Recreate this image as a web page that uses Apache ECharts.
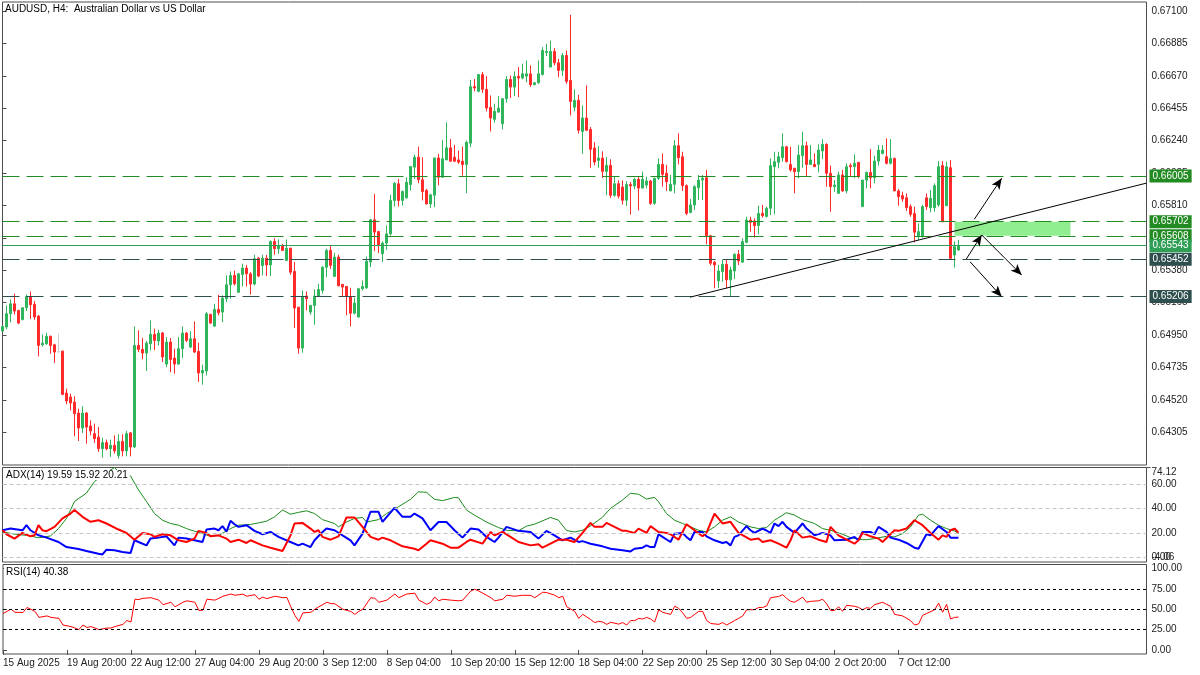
<!DOCTYPE html>
<html><head><meta charset="utf-8">
<script src="https://cdn.jsdelivr.net/npm/echarts@6/dist/echarts.min.js"></script>
<style>html,body{margin:0;padding:0;background:#fff}#c{width:1200px;height:675px}</style>
</head><body><div id="c"></div>
<script>
// ---------- DATA ----------
const opens = [
0.64976,0.65003,0.65091,0.65157,0.65113,0.65053,0.65131,0.65206,0.65153,0.65076,
0.64885,0.64892,0.64941,0.64885,0.64840,0.64843,0.64565,0.64539,0.64505,0.64432,
0.64333,0.64432,0.64346,0.64295,0.64273,0.64196,0.64236,0.64196,0.64218,0.64150,
0.64244,0.64181,0.64300,0.64207,0.64881,0.64855,0.64830,0.64892,0.64954,0.64910,
0.64963,0.64757,0.64903,0.64797,0.64757,0.64859,0.64963,0.64870,0.64925,0.64841,
0.64698,0.64711,0.65087,0.65009,0.65120,0.65102,0.65191,0.65283,0.65345,0.65234,
0.65352,0.65394,0.65356,0.65288,0.65460,0.65411,0.65460,0.65415,0.65571,0.65522,
0.65544,0.65445,0.65526,0.65372,0.65135,0.64863,0.65208,0.65102,0.65146,0.65208,
0.65246,0.65400,0.65511,0.65339,0.65467,0.65286,0.65272,0.65206,0.65095,0.65069,
0.65257,0.65263,0.65434,0.65714,0.65637,0.65489,0.65560,0.65621,0.65843,0.65953,
0.65843,0.65860,0.65949,0.66064,0.66130,0.65980,0.65909,0.65820,0.65878,0.66125,
0.65997,0.66112,0.66192,0.66130,0.66112,0.66103,0.66081,0.66223,0.66598,0.66567,
0.66678,0.66580,0.66460,0.66381,0.66429,0.66352,0.66518,0.66646,0.66595,0.66666,
0.66655,0.66668,0.66683,0.66611,0.66624,0.66679,0.66825,0.66728,0.66832,0.66756,
0.66706,0.66805,0.66639,0.66462,0.66507,0.66301,0.66390,0.66314,0.66191,0.66109,
0.66124,0.66036,0.66076,0.65877,0.65954,0.65932,0.65844,0.65948,0.65939,0.65983,
0.65925,0.65945,0.65972,0.65824,0.65990,0.66082,0.66023,0.65906,0.65950,0.66206,
0.66133,0.65941,0.65764,0.65813,0.65928,0.65978,0.65994,0.65609,0.65433,0.65309,
0.65371,0.65419,0.65316,0.65375,0.65486,0.65433,0.65565,0.65713,0.65707,0.65676,
0.65757,0.65737,0.65791,0.66067,0.66096,0.66127,0.66199,0.66082,0.66056,0.66034,
0.66140,0.66206,0.66082,0.66082,0.66082,0.66171,0.66215,0.66023,0.65934,0.65890,
0.66012,0.65906,0.66074,0.66067,0.66096,0.65802,0.65978,0.66029,0.65994,0.66104,
0.66155,0.66133,0.66089,0.66122,0.65906,0.65875,0.65861,0.65802,0.65757,0.65609,
0.65603,0.65861,0.65795,0.65795,0.65813,0.66074,0.65808,0.66060,0.65481,0.65514];
const highs = [
0.65014,0.65146,0.65186,0.65224,0.65117,0.65131,0.65219,0.65239,0.65175,0.65082,
0.64954,0.64965,0.64947,0.64892,0.64958,0.64847,0.64594,0.64561,0.64543,0.64461,
0.64477,0.64439,0.64384,0.64362,0.64340,0.64269,0.64256,0.64256,0.64284,0.64291,
0.64291,0.64313,0.64306,0.65007,0.64981,0.64932,0.64910,0.65047,0.64992,0.64985,
0.64970,0.64936,0.64930,0.64859,0.64936,0.65007,0.64970,0.64974,0.65040,0.64899,
0.64753,0.65102,0.65091,0.65157,0.65217,0.65213,0.65345,0.65372,0.65378,0.65360,
0.65423,0.65415,0.65367,0.65482,0.65467,0.65482,0.65482,0.65577,0.65593,0.65584,
0.65555,0.65584,0.65530,0.65434,0.65135,0.65246,0.65239,0.65151,0.65252,0.65290,
0.65407,0.65522,0.65540,0.65496,0.65484,0.65286,0.65272,0.65263,0.65197,0.65263,
0.65312,0.65471,0.65721,0.65887,0.65637,0.65571,0.65677,0.65880,0.65964,0.65986,
0.65909,0.65997,0.66068,0.66147,0.66200,0.66130,0.65920,0.65887,0.66125,0.66152,
0.66245,0.66362,0.66251,0.66212,0.66174,0.66200,0.66240,0.66643,0.66649,0.66682,
0.66695,0.66668,0.66540,0.66485,0.66535,0.66522,0.66668,0.66672,0.66699,0.66728,
0.66750,0.66772,0.66739,0.66628,0.66772,0.66860,0.66882,0.66904,0.66854,0.66783,
0.66821,0.66838,0.67075,0.66580,0.66544,0.66474,0.66606,0.66330,0.66230,0.66204,
0.66169,0.66131,0.66116,0.66005,0.65976,0.65976,0.65970,0.65965,0.65992,0.65998,
0.66034,0.66001,0.65979,0.65994,0.66122,0.66155,0.66078,0.66012,0.66244,0.66288,
0.66166,0.65950,0.65853,0.65945,0.66012,0.66012,0.66045,0.65614,0.65441,0.65415,
0.65448,0.65448,0.65404,0.65492,0.65514,0.65592,0.65735,0.65735,0.65724,0.65808,
0.65813,0.65802,0.66122,0.66166,0.66166,0.66288,0.66205,0.66199,0.66060,0.66211,
0.66299,0.66233,0.66211,0.66155,0.66215,0.66250,0.66222,0.66074,0.65978,0.66034,
0.66045,0.66089,0.66089,0.66149,0.66096,0.65978,0.66034,0.66184,0.66140,0.66211,
0.66211,0.66255,0.66250,0.66127,0.65919,0.65901,0.65890,0.65817,0.65802,0.65691,
0.65813,0.65890,0.65912,0.65956,0.66104,0.66104,0.66100,0.66111,0.65570,0.65581];
const lows = [
0.64974,0.64989,0.65034,0.65087,0.65022,0.65047,0.65109,0.65056,0.65051,0.64808,
0.64874,0.64885,0.64826,0.64764,0.64830,0.64550,0.64490,0.64450,0.64278,0.64247,
0.64300,0.64229,0.64284,0.64234,0.64174,0.64136,0.64185,0.64141,0.64163,0.64130,
0.64145,0.64145,0.64145,0.64200,0.64837,0.64788,0.64711,0.64848,0.64850,0.64881,
0.64771,0.64737,0.64704,0.64693,0.64753,0.64797,0.64903,0.64863,0.64830,0.64638,
0.64620,0.64682,0.65025,0.65003,0.65080,0.65036,0.65168,0.65191,0.65279,0.65230,
0.65272,0.65272,0.65219,0.65279,0.65334,0.65345,0.65341,0.65341,0.65482,0.65489,
0.65511,0.65445,0.65350,0.64996,0.64826,0.64833,0.65113,0.65084,0.65018,0.65208,
0.65224,0.65334,0.65389,0.65339,0.65272,0.65206,0.65080,0.65007,0.65087,0.65069,
0.65246,0.65257,0.65400,0.65507,0.65493,0.65434,0.65515,0.65610,0.65803,0.65803,
0.65809,0.65854,0.65909,0.65986,0.65957,0.65843,0.65816,0.65794,0.65798,0.65942,
0.65993,0.66112,0.66103,0.66097,0.66086,0.66008,0.65891,0.66196,0.66567,0.66561,
0.66556,0.66434,0.66301,0.66359,0.66425,0.66314,0.66491,0.66522,0.66535,0.66529,
0.66646,0.66628,0.66595,0.66608,0.66617,0.66672,0.66801,0.66728,0.66739,0.66661,
0.66668,0.66617,0.66407,0.66434,0.66286,0.66153,0.66308,0.66060,0.66076,0.66060,
0.65992,0.65877,0.65859,0.65866,0.65855,0.65815,0.65806,0.65749,0.65917,0.65777,
0.65923,0.65923,0.65813,0.65813,0.65979,0.65934,0.65906,0.65906,0.65890,0.66082,
0.65906,0.65746,0.65757,0.65780,0.65846,0.65846,0.65552,0.65411,0.65260,0.65260,
0.65304,0.65260,0.65205,0.65322,0.65415,0.65433,0.65559,0.65636,0.65596,0.65618,
0.65729,0.65729,0.65746,0.65751,0.66056,0.66100,0.66095,0.66034,0.65890,0.65990,
0.66060,0.66001,0.66078,0.66067,0.66029,0.66118,0.65934,0.65768,0.65901,0.65890,
0.65901,0.65890,0.66001,0.65990,0.65990,0.65802,0.65923,0.65923,0.65956,0.66074,
0.66149,0.66082,0.66082,0.65906,0.65808,0.65835,0.65773,0.65735,0.65565,0.65581,
0.65596,0.65780,0.65764,0.65768,0.65802,0.65698,0.65808,0.65455,0.65397,0.65508];
const closes = [
0.65007,0.65091,0.65157,0.65109,0.65029,0.65131,0.65206,0.65151,0.65069,0.64881,
0.64896,0.64941,0.64881,0.64837,0.64840,0.64556,0.64512,0.64499,0.64428,0.64333,
0.64432,0.64339,0.64313,0.64262,0.64196,0.64236,0.64196,0.64218,0.64181,0.64244,
0.64181,0.64295,0.64207,0.64881,0.64855,0.64830,0.64896,0.64954,0.64914,0.64963,
0.64804,0.64903,0.64788,0.64757,0.64859,0.64963,0.64914,0.64925,0.64837,0.64698,
0.64715,0.65091,0.65029,0.65120,0.65098,0.65195,0.65283,0.65345,0.65290,0.65356,
0.65394,0.65357,0.65288,0.65456,0.65341,0.65460,0.65415,0.65571,0.65522,0.65544,
0.65511,0.65526,0.65367,0.65129,0.64863,0.65202,0.65191,0.65146,0.65208,0.65252,
0.65400,0.65511,0.65412,0.65467,0.65277,0.65268,0.65206,0.65095,0.65162,0.65257,
0.65272,0.65440,0.65714,0.65633,0.65544,0.65560,0.65621,0.65843,0.65957,0.65843,
0.65902,0.65964,0.66068,0.66130,0.65980,0.65902,0.65820,0.65880,0.66125,0.65997,
0.66119,0.66192,0.66103,0.66103,0.66097,0.66081,0.66229,0.66598,0.66589,0.66678,
0.66580,0.66456,0.66390,0.66434,0.66456,0.66518,0.66646,0.66595,0.66666,0.66655,
0.66683,0.66683,0.66611,0.66624,0.66683,0.66838,0.66832,0.66832,0.66756,0.66706,
0.66805,0.66633,0.66500,0.66507,0.66308,0.66390,0.66308,0.66182,0.66098,0.66124,
0.66036,0.66076,0.65877,0.65954,0.65872,0.65844,0.65948,0.65939,0.65983,0.65925,
0.65983,0.65972,0.65824,0.65990,0.66082,0.66016,0.65967,0.65950,0.66206,0.66127,
0.65941,0.65757,0.65813,0.65934,0.65978,0.65990,0.65609,0.65426,0.65415,0.65375,
0.65419,0.65316,0.65382,0.65486,0.65441,0.65570,0.65713,0.65698,0.65676,0.65757,
0.65742,0.65791,0.66074,0.66100,0.66133,0.66199,0.66100,0.66045,0.66034,0.66144,
0.66206,0.66082,0.66111,0.66067,0.66177,0.66215,0.66023,0.65934,0.65945,0.66012,
0.65906,0.66067,0.66067,0.66089,0.66001,0.65978,0.66029,0.65994,0.66104,0.66177,
0.66177,0.66089,0.66122,0.65906,0.65868,0.65853,0.65795,0.65751,0.65632,0.65636,
0.65802,0.65802,0.65857,0.65941,0.66067,0.65702,0.66067,0.65459,0.65536,0.65543];

const priceTicks = [0.67100,0.66885,0.66670,0.66455,0.66240,0.66025,0.65810,0.65595,0.65380,0.65165,0.64950,0.64735,0.64520,0.64305];
const xTickBars = [0,16,32,48,64,80,96,112,128,144,160,176,192,208,224];
const xTickLabels = ['15 Aug 2025','19 Aug 20:00','22 Aug 12:00','27 Aug 04:00','29 Aug 20:00','3 Sep 12:00','8 Sep 04:00','10 Sep 20:00','15 Sep 12:00','18 Sep 04:00','22 Sep 20:00','25 Sep 12:00','30 Sep 04:00','2 Oct 20:00','7 Oct 12:00'];

const levelPrices = [0.66005, 0.65702, 0.65608, 0.65452, 0.65206];
const currentPrice = 0.65543;
const trendLine = [[171.9, 0.65201], [286, 0.65958]];
const zoneBox = [[238, 0.65702], [267, 0.65608]];
const arrowLines = [
  [[242.95, 0.65718], [249.8, 0.65990]],
  [[240.9, 0.65452], [244.8, 0.65614]],
  [[244.8, 0.65614], [254.8, 0.65348]],
  [[241.9, 0.65436], [249.8, 0.65204]]
];

const adxMain = [[0,20.8],[3,19],[6,18],[9,16],[12,17.5],[14,23.6],[16,32],[18,46],[21,53],[23,62.5],[26,70],[28,74.12],[30,67.2],[32,67.2],[34,55.5],[36,46],[38,36],[40,30.5],[42,27.8],[44,26.4],[46,23.6],[48,21.4],[50,19.4],[52,17.2],[54,17.8],[57,23.6],[59,26.4],[62,27],[64,28.3],[66,29.7],[68,33.3],[70,38.9],[72,35.5],[74,37],[76,38.3],[78,36],[80,31],[83,27.8],[84,25],[86,29],[88,32],[90,32.8],[91,29],[94,31],[96,36],[99,41.7],[102,47.8],[104,54],[106,53.6],[108,47.8],[110,46.7],[113,49.4],[114,49],[116,38.9],[118,34.7],[121,29],[124,24.4],[126,22.2],[129,21.7],[131,25.6],[133,27.2],[137,32.8],[139,30.5],[141,22],[143,20.8],[145,22.2],[147,25.8],[150,33],[152,40.3],[155,47.2],[157,52.8],[159,52],[161,48],[163,49.4],[164,45.8],[166,36],[168,30.5],[170,27.8],[172,25],[174,22.2],[176,20.8],[178,25],[180,30.5],[182,33.3],[184,29],[187,25],[189,23.6],[191,24.4],[193,30.5],[196,36.7],[198,34.7],[200,31],[203,27.8],[205,23.6],[207,22.2],[210,18.9],[212,16.1],[215,14.4],[216,14.4],[218,15.3],[221,17.2],[223,16.7],[225,19.4],[227,25],[229,34.7],[230,35.5],[232,30.5],[234,26.4],[236,23.6],[238,21.7],[239,19.59]];
const diPlus = [[0,22.2],[2,23.6],[5,22.2],[6,26.4],[7,22.2],[9,18],[11,16.1],[14,12.5],[16,8.3],[19,6.7],[21,5],[24,2.8],[25,2.2],[26,6.1],[28,5.6],[30,4.2],[32,3.3],[33,13.9],[34,12.5],[36,9.7],[37,15.3],[39,16.1],[41,17.2],[43,9.7],[44,16.1],[46,15.3],[48,13.9],[50,12.5],[51,22.8],[53,23.6],[54,22.2],[55,25.6],[56,21],[57,30],[58,27.2],[59,25],[61,26.4],[63,21.7],[65,18.9],[67,20.8],[69,16.7],[72,12.5],[74,9.7],[75,11.1],[77,8.3],[78,13.9],[80,20.8],[81,23.6],[83,22.2],[85,18],[87,13.9],[88,9.7],[90,19.4],[92,37.5],[94,37.5],[95,29.2],[98,40.8],[100,33.3],[102,33.3],[103,36],[105,32],[107,22.2],[109,29],[111,29],[113,22.2],[115,16.1],[117,23.6],[119,22.8],[121,16.7],[123,12.5],[124,16.1],[126,25],[129,21.7],[132,20.8],[134,15.3],[136,21.7],[138,18],[140,13.9],[142,16.1],[144,12.5],[145,13.2],[147,11.1],[150,8.9],[152,6.9],[155,5.6],[157,4.7],[158,6.9],[160,7.8],[161,9.7],[162,8.3],[163,8.3],[164,18.9],[165,16.7],[167,12.5],[168,19.4],[170,20],[171,16.7],[172,13.9],[173,20.8],[175,20.8],[176,17.2],[178,13.9],[180,11.7],[181,12.5],[182,9.7],[183,16.7],[184,18],[186,25.6],[187,22.2],[188,20],[190,23.6],[191,22],[192,20],[193,27.8],[194,25.6],[195,29.2],[196,25],[198,20],[200,27.8],[201,23.6],[203,18],[205,20],[207,18],[208,13.9],[211,14.4],[213,16.7],[214,14],[215,20.8],[217,20.8],[218,18.9],[219,25],[221,20.8],[222,16.1],[224,14.4],[226,11.7],[228,7.8],[229,6.9],[231,18.9],[232,18],[234,25.6],[236,20.8],[237,16.1],[239,15.92]];
const diMinus = [[0,22.2],[1,18.9],[3,15.3],[5,20],[7,17.2],[8,18],[9,26.4],[10,22.2],[11,21.4],[13,25],[15,32],[17,36],[18,38.9],[20,33.3],[22,29.2],[24,30.5],[26,27.8],[29,22.8],[31,20],[33,14.4],[35,20],[37,18.9],[38,16.7],[40,18.9],[42,18],[44,13.9],[46,12.5],[48,15.3],[49,21.7],[51,20],[52,17.2],[54,18],[56,15.3],[57,12.5],[59,14.4],[61,11.7],[62,13.9],[65,9.7],[67,7.8],[70,5],[72,18],[73,27.8],[75,28.3],[77,23.6],[78,20.8],[79,22.2],[80,16.7],[82,14.4],[84,17.2],[85,25],[86,32.8],[88,32.8],[90,25],[92,16.7],[94,14.4],[95,16.1],[97,13.9],[100,8.9],[103,6.9],[104,5.6],[106,11.1],[107,13.9],[110,11.1],[112,7.8],[114,7.8],[116,12.5],[117,14.4],[120,11.1],[122,20.8],[123,18],[125,20.8],[127,16.7],[129,12.5],[132,9.7],[134,10.6],[135,7.8],[137,11.1],[139,14.4],[141,14.4],[143,12.5],[145,20],[147,28.3],[148,25],[150,25],[151,28.3],[153,25],[155,21.7],[156,21.7],[158,20],[159,23.6],[161,20],[162,25.6],[164,20.8],[166,20],[167,18.9],[169,14.4],[171,27.2],[173,22.2],[175,17.2],[176,20],[178,36],[180,27.8],[182,29.2],[184,20],[187,14.4],[189,15.3],[190,12.5],[192,13.9],[194,11.1],[196,7.8],[197,13.9],[198,22.2],[200,16.1],[202,17.2],[204,14.4],[206,12.5],[207,25],[209,18],[211,14.4],[213,11.1],[214,13.9],[215,20],[217,17.2],[219,15.3],[220,12.5],[223,22.2],[224,21.7],[226,23.6],[228,30.5],[230,26.4],[232,20],[234,14.4],[235,18],[236,16.7],[237,22.2],[238,23.6],[239,20.21]];
const rsiLine = [[0,44.8],[2,50],[3,46.3],[5,46],[6,52.2],[8,47.4],[9,40],[11,41.8],[12,40],[14,38.8],[15,30.6],[17,28.7],[19,25],[20,30.6],[21,27.6],[22,28.7],[24,25],[26,26.9],[27,26.9],[28,28.7],[30,31.4],[31,36.2],[32,34.3],[33,62.3],[34,62],[35,63.4],[37,64.2],[39,61.2],[40,55.6],[42,58.6],[43,53],[45,58.6],[46,60.4],[48,58.6],[49,48.5],[50,48.8],[51,62.3],[53,61.2],[54,63.4],[55,66],[57,68.7],[58,67.2],[60,68.5],[61,66],[63,67.9],[64,62.3],[65,64.9],[66,63],[68,66],[70,64.2],[71,64.5],[72,53],[73,42.5],[74,35.1],[75,45.5],[77,46.3],[78,50],[79,53],[81,58.6],[82,57],[83,56.7],[85,50],[87,47.4],[88,43.7],[89,47.4],[90,50],[92,64.2],[93,63.5],[94,58.6],[96,61.2],[98,68.7],[99,64.2],[101,68.7],[103,69.8],[104,61.2],[106,56],[107,58.6],[108,64.9],[109,60.4],[110,62.3],[112,61.2],[114,60.4],[115,61.2],[117,72.4],[118,74.6],[119,72.4],[120,69.8],[122,64.2],[123,60.4],[125,62.3],[126,67.2],[128,66],[130,67.2],[132,67],[133,64.2],[135,70.9],[136,70.5],[138,67.2],[139,64.2],[140,66],[141,53],[143,47.4],[144,38.8],[145,43.7],[147,37.3],[148,33.6],[149,35.1],[150,34.3],[151,31.4],[152,34],[154,31.7],[155,33.6],[156,30.6],[157,36.2],[158,36],[159,38.8],[160,38],[161,40],[162,38],[163,34.3],[164,49.3],[165,46.3],[166,44.8],[167,43.7],[168,53.7],[169,51.1],[170,45.5],[171,38.8],[172,40],[173,43.7],[174,47.4],[175,47.4],[176,36.2],[177,32.5],[179,31.4],[180,33.6],[181,30.6],[183,36.2],[184,38.8],[185,41.8],[186,49.3],[188,49.5],[189,52.2],[190,52.2],[191,54.1],[192,64.2],[194,65.7],[195,67.9],[196,63.4],[197,59.7],[198,58.6],[200,64.9],[201,58.6],[202,59.7],[204,60.4],[205,62.3],[206,56.7],[207,48.5],[208,48.5],[209,53],[210,47.4],[211,54.8],[213,53.7],[214,52.2],[215,49.3],[216,51.9],[217,51.1],[218,55.6],[220,58.6],[221,56],[222,53.7],[223,43.7],[225,41.8],[227,36],[228,30.6],[229,32],[230,42.5],[231,44.8],[233,49.3],[234,57.5],[235,46.3],[236,56],[237,38],[238,40],[239,40.38]];
const adxGridLevels = [0, 20, 40, 60];
const adxTicks = [0, 20, 40, 60];
const rsiLevels = [25, 50, 75];
const rsiTicks = [0, 25, 50, 75, 100];

// ---------- STYLE ----------
const FONT = 'Liberation Sans';
const UP = '#2fb65c', DN = '#ff2b2b';
const levelColors = ['#228b22', '#228b22', '#228b22', '#2f4f4f', '#2f4f4f'];
const curColor = '#2f9f56';
const frame = '#4d4d4d';
const GL = 2.5, GW = 1144;
const yMax = 0.6715972, yMin = 0.6408742;

const tagLabel = (txt, bg) => ({show: true, position: 'end', distance: 3, formatter: txt,
  backgroundColor: bg, color: '#fff', padding: [2, 3, 1, 3], fontSize: 10, fontFamily: FONT});

const markLineData = [];
levelPrices.forEach((p, i) => markLineData.push({yAxis: p,
  lineStyle: {color: levelColors[i], type: [17, 7], width: 1}, label: tagLabel(p.toFixed(5), levelColors[i])}));
markLineData.push({yAxis: currentPrice, lineStyle: {color: curColor, type: 'solid', width: 1},
  label: tagLabel(currentPrice.toFixed(5), curColor)});
markLineData.push([{coord: trendLine[0], symbol: 'none', lineStyle: {color: '#000', type: 'solid', width: 1}, label: {show: false}},
                   {coord: trendLine[1], symbol: 'none'}]);
arrowLines.forEach(a => markLineData.push([
  {coord: a[0], symbol: 'none', lineStyle: {color: '#000', type: 'solid', width: 1}, label: {show: false}},
  {coord: a[1], symbol: 'arrow', symbolSize: [7, 11]}]));

const candleData = opens.map((o, i) => [i, o, closes[i], lows[i], highs[i]]);

const yLab = (vals, dec, extra) => Object.assign({show: true, customValues: vals, margin: 5, color: '#222',
  fontSize: 10, fontFamily: FONT, formatter: v => Number(v).toFixed(dec)}, extra || {});
const yTick = vals => ({show: true, customValues: vals, length: 4, lineStyle: {color: frame}});

const xHidden = gi => ({type: 'value', gridIndex: gi, min: 0, max: 286, show: false});

const option = {
  animation: false,
  backgroundColor: '#fff',
  textStyle: {fontFamily: FONT},
  title: [
    {text: 'AUDUSD, H4:  Australian Dollar vs US Dollar', left: 5, top: 4, padding: 0,
      textStyle: {fontSize: 10, fontWeight: 'normal', color: '#000', fontFamily: FONT}},
    {text: 'ADX(14) 19.59 15.92 20.21', left: 4, top: 470, padding: [0, 2], backgroundColor: '#fff',
      textStyle: {fontSize: 10, fontWeight: 'normal', color: '#000', fontFamily: FONT}},
    {text: 'RSI(14) 40.38', left: 4, top: 567, padding: [0, 2], backgroundColor: '#fff',
      textStyle: {fontSize: 10, fontWeight: 'normal', color: '#000', fontFamily: FONT}}
  ],
  grid: [
    {left: GL, width: GW, top: 2, height: 463, show: true, borderColor: frame, borderWidth: 1},
    {left: GL, width: GW, top: 467.5, height: 94.5, show: true, borderColor: frame, borderWidth: 1},
    {left: GL, width: GW, top: 564.5, height: 89.5, show: true, borderColor: frame, borderWidth: 1}
  ],
  xAxis: [
    xHidden(0), xHidden(1),
    {type: 'value', gridIndex: 2, min: 0, max: 286, position: 'bottom',
      axisLine: {show: false}, splitLine: {show: false},
      axisTick: {show: true, customValues: xTickBars, length: 5, lineStyle: {color: frame}},
      axisLabel: {show: true, customValues: xTickBars, align: 'left', margin: 4, color: '#222', fontSize: 10,
        fontFamily: FONT, formatter: v => xTickLabels[xTickBars.indexOf(Math.round(v))] || ''}}
  ],
  yAxis: [
    {type: 'value', gridIndex: 0, position: 'right', min: yMin, max: yMax, scale: true,
      axisLine: {show: false}, splitLine: {show: false}, axisTick: yTick(priceTicks), axisLabel: yLab(priceTicks, 5)},
    {type: 'value', gridIndex: 1, position: 'right', min: -4.06, max: 74.12,
      axisLine: {show: false}, splitLine: {show: false}, axisTick: yTick(adxTicks), axisLabel: yLab(adxTicks, 2)},
    {type: 'value', gridIndex: 1, position: 'right', min: -4.06, max: 74.12,
      axisLine: {show: false}, splitLine: {show: false}, axisTick: yTick([74.12]),
      axisLabel: yLab([74.12], 2, {verticalAlign: 'top'})},
    {type: 'value', gridIndex: 1, position: 'right', min: -4.06, max: 74.12,
      axisLine: {show: false}, splitLine: {show: false}, axisTick: {show: false},
      axisLabel: yLab([-4.06], 2, {verticalAlign: 'bottom'})},
    {type: 'value', gridIndex: 2, position: 'right', min: -5, max: 105,
      axisLine: {show: false}, splitLine: {show: false}, axisTick: yTick(rsiTicks), axisLabel: yLab(rsiTicks, 2)}
  ],
  series: [
    {type: 'candlestick', xAxisIndex: 0, yAxisIndex: 0, data: candleData, barWidth: 2, clip: true,
      itemStyle: {color: UP, color0: DN, borderColor: UP, borderColor0: DN, borderColorDoji: '#cfcfcf', borderWidth: 1},
      markArea: {silent: true, itemStyle: {color: '#90ee90', opacity: 1},
        data: [[{coord: zoneBox[0]}, {coord: zoneBox[1]}]]},
      markLine: {silent: true, precision: 5, symbol: ['none', 'none'], animation: false, data: markLineData}},
    {type: 'line', xAxisIndex: 1, yAxisIndex: 1, data: adxMain, symbol: 'none', z: 2,
      lineStyle: {color: '#1a8a1a', width: 1},
      markLine: {silent: true, precision: 5, symbol: ['none', 'none'], label: {show: false},
        lineStyle: {color: '#c4c4c4', type: [4, 3], width: 1},
        data: adxGridLevels.map(v => ({yAxis: v}))}},
    {type: 'line', xAxisIndex: 1, yAxisIndex: 1, data: diPlus, symbol: 'none', z: 3,
      lineStyle: {color: '#0000ff', width: 2}},
    {type: 'line', xAxisIndex: 1, yAxisIndex: 1, data: diMinus, symbol: 'none', z: 4,
      lineStyle: {color: '#ff0000', width: 2}},
    {type: 'line', xAxisIndex: 2, yAxisIndex: 4, data: rsiLine, symbol: 'none', z: 3,
      lineStyle: {color: '#ff0000', width: 1},
      markLine: {silent: true, precision: 5, symbol: ['none', 'none'], label: {show: false},
        lineStyle: {color: '#000', type: [3, 3], width: 1},
        data: rsiLevels.map(v => ({yAxis: v}))}}
  ]
};
const chart = echarts.init(document.getElementById('c'), null, {renderer: 'canvas'});
chart.setOption(option);
</script></body></html>
